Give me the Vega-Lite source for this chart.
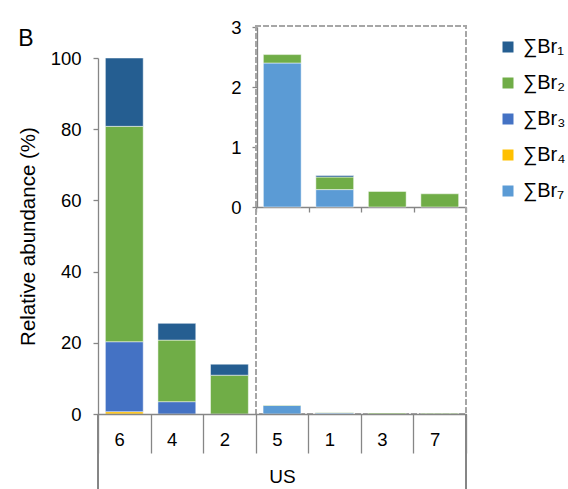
{
  "$schema": "https://vega.github.io/schema/vega-lite/v6.json",
  "width": 368,
  "height": 356,
  "autosize": {"type": "none"},
  "padding": {"left": 98, "top": 58, "right": 102, "bottom": 75},
  "title": {"text": "B", "anchor": "start", "frame": "bounds", "fontSize": 23, "fontWeight": "normal", "font": "Liberation Sans", "color": "#000", "dy": 37},
  "config": {
    "view": {"stroke": null},
    "font": "Liberation Sans",
    "axis": {"domainColor": "#868686", "tickColor": "#868686", "domainWidth": 1.3, "tickWidth": 1.3, "labelColor": "#000", "labelFont": "Liberation Sans", "labelFontSize": 18.5, "grid": false, "titleColor": "#000", "titleFont": "Liberation Sans", "titleFontWeight": "normal"}
  },
  "data": {"values": [
    {"sample": "6", "series": "∑Br₄", "value": 0.65},
    {"sample": "6", "series": "∑Br₃", "value": 19.65},
    {"sample": "6", "series": "∑Br₂", "value": 60.5},
    {"sample": "6", "series": "∑Br₁", "value": 19.2},
    {"sample": "4", "series": "∑Br₃", "value": 3.46},
    {"sample": "4", "series": "∑Br₂", "value": 17.3},
    {"sample": "4", "series": "∑Br₁", "value": 4.7},
    {"sample": "2", "series": "∑Br₂", "value": 10.9},
    {"sample": "2", "series": "∑Br₁", "value": 3.1},
    {"sample": "5", "series": "∑Br₇", "value": 2.4},
    {"sample": "5", "series": "∑Br₂", "value": 0.14},
    {"sample": "1", "series": "∑Br₇", "value": 0.29},
    {"sample": "1", "series": "∑Br₂", "value": 0.21},
    {"sample": "1", "series": "∑Br₁", "value": 0.025},
    {"sample": "3", "series": "∑Br₂", "value": 0.26},
    {"sample": "7", "series": "∑Br₂", "value": 0.22}
  ]},
  "layer": [
    {
      "layer": [
        {
          "mark": {"type": "rect", "fill": null, "stroke": "#a6a6a6", "strokeDash": [5, 3], "strokeWidth": 1.3},
          "encoding": {
            "x": {"datum": "5", "bandPosition": 0},
            "x2": {"datum": "7", "bandPosition": 1},
            "y": {"datum": 0},
            "y2": {"datum": 109}
          }
        },
        {
          "mark": {"type": "bar", "width": {"band": 0.72}, "stroke": "#ffffff", "strokeWidth": 0.7, "strokeOpacity": 0.7},
          "encoding": {
            "x": {"field": "sample", "type": "nominal", "scale": {"domain": ["6", "4", "2", "5", "1", "3", "7"], "paddingInner": 0, "paddingOuter": 0},
                  "axis": {"title": "US", "titleFontSize": 19, "titlePadding": 14, "labelAngle": 0, "tickBand": "extent", "tickSize": 39, "labelPadding": -14}},
            "y": {"field": "value", "type": "quantitative", "stack": "zero", "scale": {"domain": [0, 100]},
                  "axis": {"values": [0, 20, 40, 60, 80, 100], "tickSize": 5, "labelPadding": 12, "title": "Relative abundance (%)", "titleFontSize": 20.5, "titlePadding": 12}},
            "color": {"field": "series", "type": "nominal",
                      "scale": {"domain": ["∑Br₁", "∑Br₂", "∑Br₃", "∑Br₄", "∑Br₇"], "range": ["#255E91", "#70AD47", "#4472C4", "#FFC000", "#5B9BD5"]},
                      "legend": {"orient": "none", "legendX": 400, "legendY": -21, "title": null, "symbolType": "square", "symbolSize": 121, "symbolStrokeWidth": 0, "labelFontSize": 20, "labelFont": "Liberation Sans", "labelColor": "#000", "rowPadding": 16, "labelOffset": 5}},
            "order": {"field": "series", "sort": "descending"}
          }
        },
        {
          "mark": {"type": "rule", "color": "#868686", "strokeWidth": 1.3, "clip": false},
          "encoding": {"x": {"datum": "6", "bandPosition": 0}, "y": {"datum": 0}, "y2": {"datum": -21.1}}
        },
        {
          "mark": {"type": "rule", "color": "#868686", "strokeWidth": 1.3, "clip": false},
          "encoding": {"x": {"datum": "7", "bandPosition": 1}, "y": {"datum": 0}, "y2": {"datum": -21.1}}
        }
      ]
    },
    {
      "transform": [{"filter": {"field": "sample", "oneOf": ["5", "1", "3", "7"]}}],
      "mark": {"type": "bar", "width": {"band": 0.72}, "stroke": "#ffffff", "strokeWidth": 0.7, "strokeOpacity": 0.7},
      "encoding": {
        "x": {"field": "sample", "type": "nominal", "scale": {"domain": ["5", "1", "3", "7"], "range": [158, 368], "paddingInner": 0, "paddingOuter": 0},
              "axis": {"orient": "bottom", "offset": -207, "labels": false, "title": null, "tickBand": "extent", "tickSize": 5}},
        "y": {"field": "value", "type": "quantitative", "stack": "zero", "scale": {"domain": [0, 3], "range": [149, -31]},
              "axis": {"orient": "left", "offset": -159, "values": [0, 1, 2, 3], "title": null, "tickSize": 5, "labelPadding": 11}},
        "color": {"field": "series", "type": "nominal"},
        "order": {"field": "series", "sort": "descending"}
      }
    }
  ],
  "resolve": {"scale": {"x": "independent", "y": "independent", "color": "shared"}, "axis": {"x": "independent", "y": "independent"}}
}
